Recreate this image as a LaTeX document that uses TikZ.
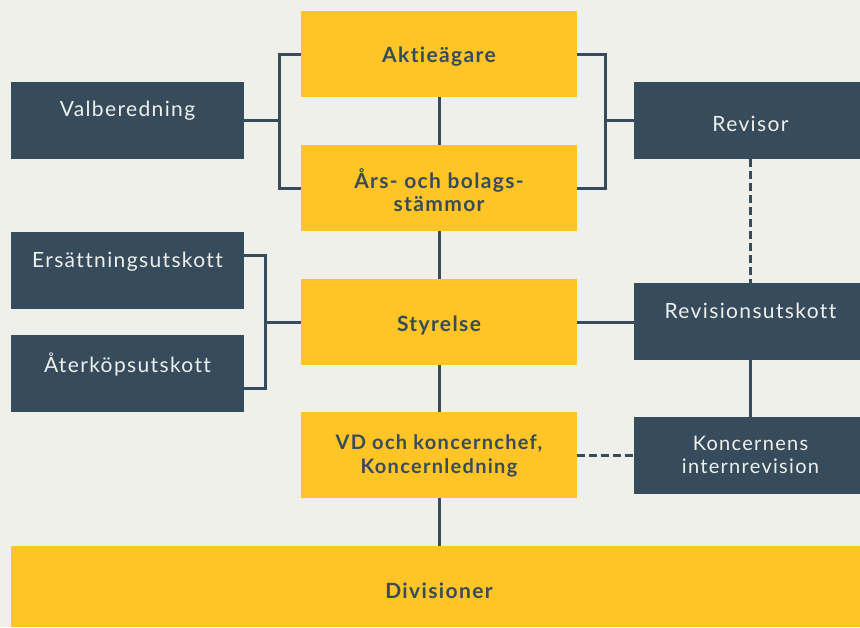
\documentclass[tikz,border=0pt]{standalone}
\usepackage{fontspec}
\setmainfont{Lato}[LetterSpace=6.5, Ligatures={NoCommon}]
\definecolor{bg}{RGB}{240,240,235}
\definecolor{yel}{RGB}{255,196,37}
\definecolor{drk}{RGB}{54,75,92}
\tikzset{
  ybox/.style={fill=yel, draw=none, minimum width=276pt, minimum height=86pt, inner sep=0pt},
  ytxt/.style={text=drk, font=\bfseries\fontsize{21}{23.5}\selectfont, align=center, inner sep=0pt},
  dbox/.style={fill=drk, draw=none, minimum width=233pt, minimum height=77pt, inner sep=0pt},
  dtxt/.style={text=bg, font=\fontsize{21}{23.5}\selectfont, align=center, inner sep=0pt},
  conn/.style={draw=drk, line width=3pt},
  dconn/.style={conn, dash pattern=on 8pt off 4pt}
}
\begin{document}
\begin{tikzpicture}[x=1pt, y=-1pt]
\fill[bg] (0,0) rectangle (860,627);
\useasboundingbox (0,0) rectangle (860,627);
\clip (0,0) rectangle (860,627);
% yellow column
\node[ybox] (akt) at (439,54) {};
\node[ytxt] (aktt) at (439,57) {Aktieägare};
\node[ybox] (ars) at (439,188) {};
\node[ytxt] (arst) at (439,190) {Års- och bolags-\\stämmor};
\node[ybox] (sty) at (439,322) {};
\node[ytxt] (styt) at (439,325) {Styrelse};
\node[ybox] (vd) at (439,455) {};
\node[ytxt, font=\bfseries\fontsize{20}{23.5}\selectfont] (vdt) at (439,456) {VD och koncernchef,\\Koncernledning};
\node[ybox, minimum width=860pt, minimum height=81pt] (div) at (441,586.5) {};
\node[ytxt] (divt) at (439,591) {Divisioner};
% left dark boxes
\node[dbox] (valb) at (127.5,120.5) {};
\node[dtxt] (valbt) at (127.5,111) {Valberedning};
\node[dbox] (ers) at (127.5,270.5) {};
\node[dtxt] (erst) at (127.5,262) {Ersättningsutskott};
\node[dbox] (ater) at (127.5,373.5) {};
\node[dtxt] (atert) at (127.5,364) {Återköpsutskott};
% right dark boxes
\node[dbox] (rev) at (750.5,120.5) {};
\node[dtxt] (revt) at (750.5,124) {Revisor};
\node[dbox] (revu) at (750.5,321.5) {};
\node[dtxt] (revut) at (750.5,311) {Revisionsutskott};
\node[dbox] (kir) at (750.5,455.5) {};
\node[dtxt, font=\fontsize{20}{23.5}\selectfont] (kirt) at (750.5,455) {Koncernens\\internrevision};
% connectors
\draw[conn] (akt.south) -- (ars.north);
\draw[conn] (ars.south) -- (sty.north);
\draw[conn] (sty.south) -- (vd.north);
\draw[conn] (vd.south) -- (vd.south |- div.north);
\coordinate (lbr) at (279,120.5);
\draw[conn] (akt.west) -| (lbr) |- (ars.west);
\draw[conn] (valb.east) -- (lbr);
\coordinate (rbr) at (605,120.5);
\draw[conn] (akt.east) -| (rbr) |- (ars.east);
\draw[conn] (rev.west) -- (rbr);
\coordinate (lb2) at (265,322);
\draw[conn] ([yshift=15.5pt]ers.east) -| (lb2) |- ([yshift=-14.5pt]ater.east);
\draw[conn] (sty.west) -- (lb2);
\draw[conn] (sty.east) -- (revu.west |- sty.east);
\draw[dconn] (rev.south) -- (revu.north);
\draw[conn] (revu.south) -- (kir.north);
\draw[dconn] (vd.east) -- (kir.west |- vd.east);
\end{tikzpicture}
\end{document}
